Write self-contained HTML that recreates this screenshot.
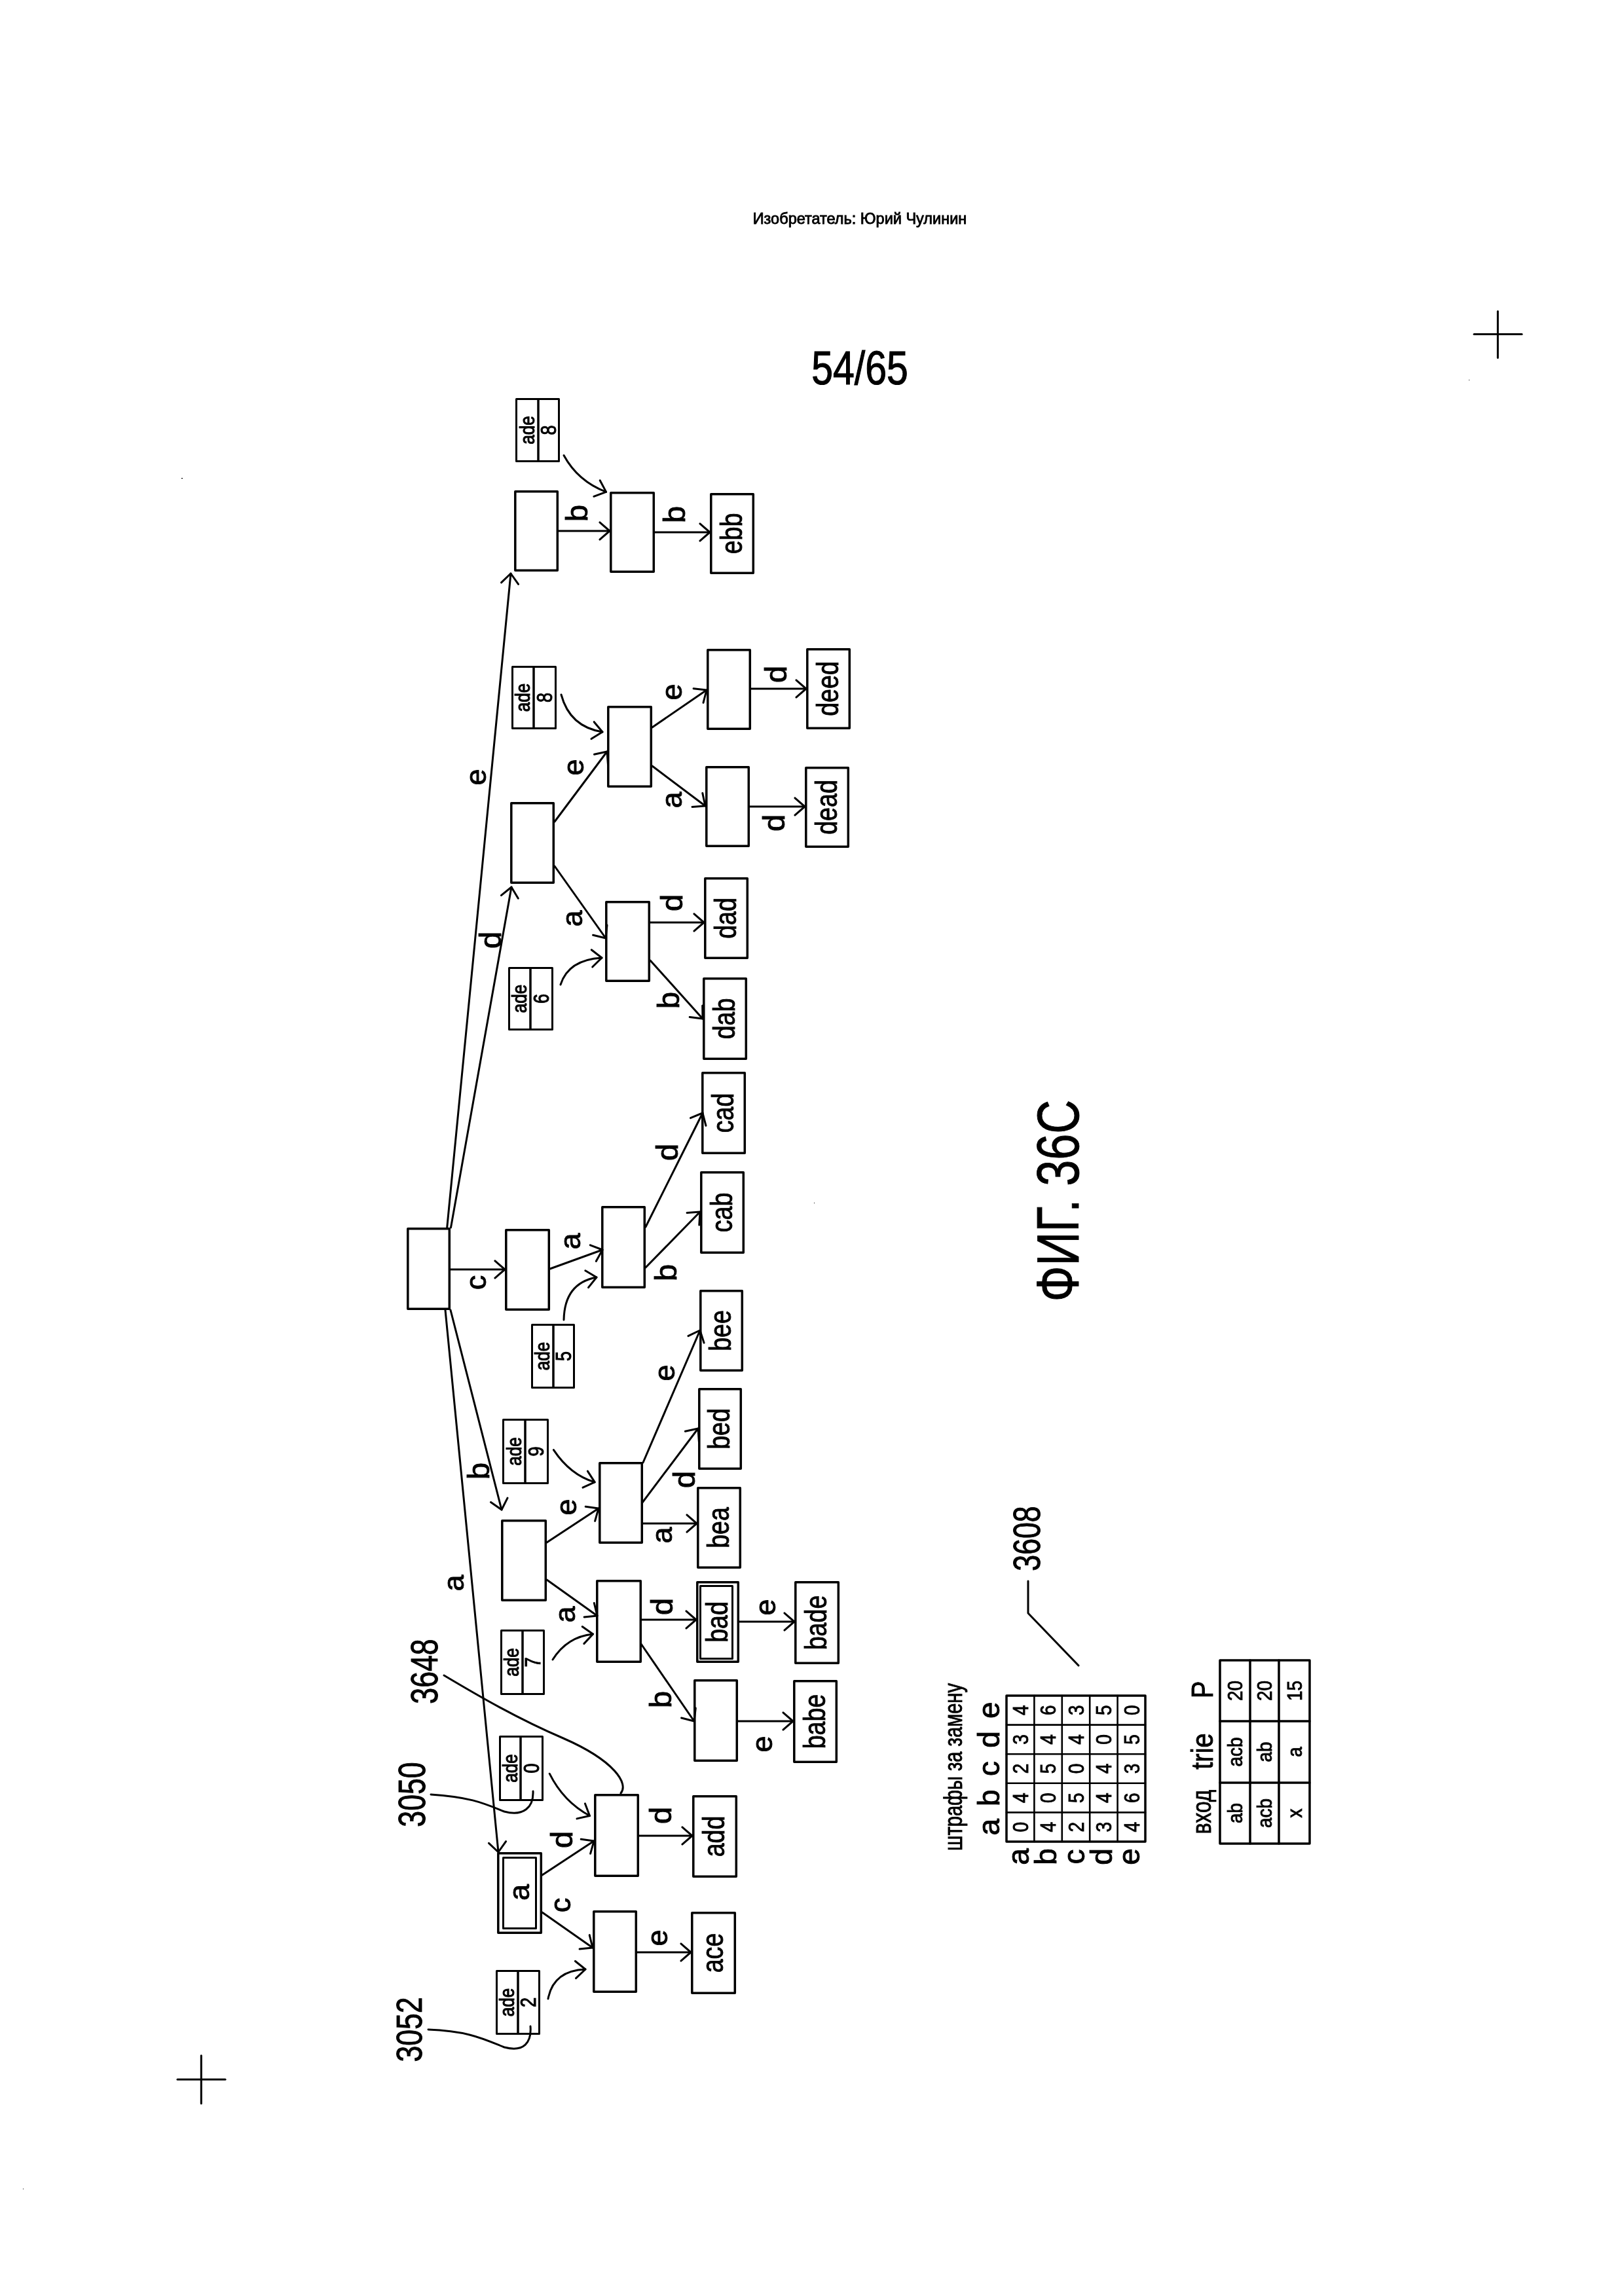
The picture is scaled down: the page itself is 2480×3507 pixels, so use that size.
<!DOCTYPE html>
<html><head><meta charset="utf-8"><style>
html,body{margin:0;padding:0;background:#fff;}
svg{display:block;filter:grayscale(1);}
.s{fill:none;stroke:#000;stroke-linecap:round;stroke-linejoin:round;}
text{font-family:"Liberation Sans",sans-serif;fill:#000;}
</style></head><body>
<svg width="2480" height="3507" viewBox="0 0 2480 3507">
<rect width="2480" height="3507" fill="#fff"/>
<rect x="788.5" y="609.5" width="65.0" height="95.0" class="s" stroke-width="3"/>
<line x1="822" y1="609.5" x2="822" y2="704.5" stroke="#000" stroke-width="3.5"/>
<text transform="translate(815.9,657.0) rotate(-90) scale(0.84,1)" font-size="31" text-anchor="middle" stroke="#000" stroke-width="1.1">ade</text>
<text transform="translate(848.5,657.0) rotate(-90) scale(0.82,1)" font-size="33" text-anchor="middle" stroke="#000" stroke-width="1.1">8</text>
<rect x="786.8" y="750.8" width="64.5" height="120.5" class="s" stroke-width="3.5"/>
<rect x="932.8" y="752.8" width="65.5" height="120.5" class="s" stroke-width="3.5"/>
<rect x="1085.8" y="754.8" width="64.5" height="120.5" class="s" stroke-width="3.5"/>
<text transform="translate(1132.8,815.0) rotate(-90) scale(0.8,1)" font-size="47" text-anchor="middle" stroke="#000" stroke-width="0.9">ebb</text>
<line x1="853" y1="811" x2="931" y2="811" class="s" stroke-width="3.0"/>
<polyline points="915.9,797.9 931,811 915.9,824.1" class="s" stroke-width="3.0"/>
<text transform="translate(897.3,784.0) rotate(-90) scale(1.0,1)" font-size="47" text-anchor="middle" stroke="#000" stroke-width="0.9">b</text>
<line x1="1000" y1="813" x2="1084" y2="813" class="s" stroke-width="3.0"/>
<polyline points="1068.9,799.9 1084,813 1068.9,826.1" class="s" stroke-width="3.0"/>
<text transform="translate(1046.3,786.0) rotate(-90) scale(1.0,1)" font-size="47" text-anchor="middle" stroke="#000" stroke-width="0.9">b</text>
<path d="M861,695.5 Q882.5,735 925.6,751.4" class="s" stroke-width="3.0"/>
<polyline points="916.2,733.8 925.6,751.4 906.8,758.3" class="s" stroke-width="3.0"/>
<rect x="782.5" y="1018.5" width="66.0" height="94.0" class="s" stroke-width="3"/>
<line x1="815" y1="1018.5" x2="815" y2="1112.5" stroke="#000" stroke-width="3.5"/>
<text transform="translate(809.4,1065.5) rotate(-90) scale(0.84,1)" font-size="31" text-anchor="middle" stroke="#000" stroke-width="1.1">ade</text>
<text transform="translate(842.5,1065.5) rotate(-90) scale(0.82,1)" font-size="33" text-anchor="middle" stroke="#000" stroke-width="1.1">8</text>
<rect x="780.8" y="1226.8" width="64.5" height="121.5" class="s" stroke-width="3.5"/>
<rect x="928.8" y="1079.8" width="65.5" height="121.5" class="s" stroke-width="3.5"/>
<rect x="1080.8" y="992.8" width="64.5" height="120.5" class="s" stroke-width="3.5"/>
<rect x="1232.8" y="991.8" width="64.5" height="120.5" class="s" stroke-width="3.5"/>
<text transform="translate(1279.8,1052.0) rotate(-90) scale(0.8,1)" font-size="47" text-anchor="middle" stroke="#000" stroke-width="0.9">deed</text>
<rect x="1078.8" y="1171.8" width="64.5" height="120.5" class="s" stroke-width="3.5"/>
<rect x="1230.8" y="1172.8" width="64.5" height="120.5" class="s" stroke-width="3.5"/>
<text transform="translate(1277.8,1233.0) rotate(-90) scale(0.8,1)" font-size="47" text-anchor="middle" stroke="#000" stroke-width="0.9">dead</text>
<rect x="925.8" y="1377.8" width="65.5" height="120.5" class="s" stroke-width="3.5"/>
<rect x="1076.8" y="1341.8" width="64.5" height="121.5" class="s" stroke-width="3.5"/>
<text transform="translate(1123.8,1402.5) rotate(-90) scale(0.8,1)" font-size="47" text-anchor="middle" stroke="#000" stroke-width="0.9">dad</text>
<rect x="1074.8" y="1494.8" width="64.5" height="122.5" class="s" stroke-width="3.5"/>
<text transform="translate(1121.8,1556.0) rotate(-90) scale(0.8,1)" font-size="47" text-anchor="middle" stroke="#000" stroke-width="0.9">dab</text>
<rect x="777.5" y="1478.5" width="66.0" height="94.0" class="s" stroke-width="3"/>
<line x1="810" y1="1478.5" x2="810" y2="1572.5" stroke="#000" stroke-width="3.5"/>
<text transform="translate(804.4,1525.5) rotate(-90) scale(0.84,1)" font-size="31" text-anchor="middle" stroke="#000" stroke-width="1.1">ade</text>
<text transform="translate(837.5,1525.5) rotate(-90) scale(0.82,1)" font-size="33" text-anchor="middle" stroke="#000" stroke-width="1.1">6</text>
<line x1="847" y1="1255" x2="927" y2="1148" class="s" stroke-width="3.0"/>
<polyline points="907.5,1152.2 927,1148 928.5,1167.9" class="s" stroke-width="3.0"/>
<text transform="translate(891.3,1172.0) rotate(-90) scale(1.0,1)" font-size="45" text-anchor="middle" stroke="#000" stroke-width="0.9">e</text>
<line x1="847" y1="1323" x2="925" y2="1433" class="s" stroke-width="3.0"/>
<polyline points="927.0,1413.1 925,1433 905.6,1428.3" class="s" stroke-width="3.0"/>
<text transform="translate(889.3,1403.0) rotate(-90) scale(1.0,1)" font-size="45" text-anchor="middle" stroke="#000" stroke-width="0.9">a</text>
<line x1="996" y1="1111" x2="1079" y2="1054" class="s" stroke-width="3.0"/>
<polyline points="1059.1,1051.7 1079,1054 1074.0,1073.4" class="s" stroke-width="3.0"/>
<text transform="translate(1041.3,1057.0) rotate(-90) scale(1.0,1)" font-size="45" text-anchor="middle" stroke="#000" stroke-width="0.9">e</text>
<line x1="996" y1="1170" x2="1077" y2="1231" class="s" stroke-width="3.0"/>
<polyline points="1072.8,1211.4 1077,1231 1057.0,1232.4" class="s" stroke-width="3.0"/>
<text transform="translate(1041.3,1222.0) rotate(-90) scale(1.0,1)" font-size="45" text-anchor="middle" stroke="#000" stroke-width="0.9">a</text>
<line x1="1147" y1="1052" x2="1231" y2="1052" class="s" stroke-width="3.0"/>
<polyline points="1215.9,1038.9 1231,1052 1215.9,1065.1" class="s" stroke-width="3.0"/>
<text transform="translate(1201.3,1030.0) rotate(-90) scale(1.0,1)" font-size="47" text-anchor="middle" stroke="#000" stroke-width="0.9">d</text>
<line x1="1145" y1="1232" x2="1229" y2="1232" class="s" stroke-width="3.0"/>
<polyline points="1213.9,1218.9 1229,1232 1213.9,1245.1" class="s" stroke-width="3.0"/>
<text transform="translate(1198.3,1257.0) rotate(-90) scale(1.0,1)" font-size="47" text-anchor="middle" stroke="#000" stroke-width="0.9">d</text>
<line x1="993" y1="1409" x2="1075" y2="1409" class="s" stroke-width="3.0"/>
<polyline points="1059.9,1395.9 1075,1409 1059.9,1422.1" class="s" stroke-width="3.0"/>
<text transform="translate(1042.3,1379.0) rotate(-90) scale(1.0,1)" font-size="47" text-anchor="middle" stroke="#000" stroke-width="0.9">d</text>
<line x1="993" y1="1467" x2="1073" y2="1556" class="s" stroke-width="3.0"/>
<polyline points="1072.7,1536.0 1073,1556 1053.2,1553.5" class="s" stroke-width="3.0"/>
<text transform="translate(1037.3,1528.0) rotate(-90) scale(1.0,1)" font-size="47" text-anchor="middle" stroke="#000" stroke-width="0.9">b</text>
<path d="M857,1061 Q870,1110 920,1118" class="s" stroke-width="3.0"/>
<polyline points="907.2,1102.7 920,1118 903.0,1128.6" class="s" stroke-width="3.0"/>
<path d="M856,1504 Q868,1466 919,1463" class="s" stroke-width="3.0"/>
<polyline points="903.2,1450.8 919,1463 904.7,1477.0" class="s" stroke-width="3.0"/>
<rect x="622.8" y="1876.8" width="63.5" height="122.5" class="s" stroke-width="3.5"/>
<rect x="772.8" y="1878.8" width="65.5" height="121.5" class="s" stroke-width="3.5"/>
<rect x="919.8" y="1843.8" width="64.5" height="122.5" class="s" stroke-width="3.5"/>
<rect x="1070.8" y="1790.8" width="64.5" height="122.5" class="s" stroke-width="3.5"/>
<text transform="translate(1117.8,1852.0) rotate(-90) scale(0.8,1)" font-size="47" text-anchor="middle" stroke="#000" stroke-width="0.9">cab</text>
<rect x="1072.8" y="1638.8" width="64.5" height="122.5" class="s" stroke-width="3.5"/>
<text transform="translate(1119.8,1700.0) rotate(-90) scale(0.8,1)" font-size="47" text-anchor="middle" stroke="#000" stroke-width="0.9">cad</text>
<rect x="812.5" y="2023.5" width="64.0" height="96.0" class="s" stroke-width="3"/>
<line x1="845" y1="2023.5" x2="845" y2="2119.5" stroke="#000" stroke-width="3.5"/>
<text transform="translate(839.4,2071.5) rotate(-90) scale(0.84,1)" font-size="31" text-anchor="middle" stroke="#000" stroke-width="1.1">ade</text>
<text transform="translate(871.5,2071.5) rotate(-90) scale(0.82,1)" font-size="33" text-anchor="middle" stroke="#000" stroke-width="1.1">5</text>
<line x1="688" y1="1939" x2="771" y2="1939" class="s" stroke-width="3.0"/>
<polyline points="755.9,1925.9 771,1939 755.9,1952.1" class="s" stroke-width="3.0"/>
<text transform="translate(742.3,1959.0) rotate(-90) scale(1.0,1)" font-size="45" text-anchor="middle" stroke="#000" stroke-width="0.9">c</text>
<line x1="840" y1="1938" x2="920" y2="1909" class="s" stroke-width="3.0"/>
<polyline points="901.3,1901.8 920,1909 910.3,1926.5" class="s" stroke-width="3.0"/>
<text transform="translate(886.3,1896.0) rotate(-90) scale(1.0,1)" font-size="45" text-anchor="middle" stroke="#000" stroke-width="0.9">a</text>
<line x1="986" y1="1874" x2="1073" y2="1700" class="s" stroke-width="3.0"/>
<polyline points="1054.5,1707.6 1073,1700 1078.0,1719.4" class="s" stroke-width="3.0"/>
<text transform="translate(1035.3,1760.0) rotate(-90) scale(1.0,1)" font-size="47" text-anchor="middle" stroke="#000" stroke-width="0.9">d</text>
<line x1="986" y1="1936" x2="1069" y2="1851" class="s" stroke-width="3.0"/>
<polyline points="1049.1,1852.6 1069,1851 1067.8,1871.0" class="s" stroke-width="3.0"/>
<text transform="translate(1033.3,1944.0) rotate(-90) scale(1.0,1)" font-size="47" text-anchor="middle" stroke="#000" stroke-width="0.9">b</text>
<path d="M861,2016 Q862,1960 911,1951" class="s" stroke-width="3.0"/>
<polyline points="893.8,1940.8 911,1951 898.5,1966.6" class="s" stroke-width="3.0"/>
<line x1="682.7" y1="1875" x2="780" y2="876" class="s" stroke-width="3.0"/>
<polyline points="765.5,889.8 780,876 791.6,892.3" class="s" stroke-width="3.0"/>
<text transform="translate(742.3,1187.0) rotate(-90) scale(1.0,1)" font-size="45" text-anchor="middle" stroke="#000" stroke-width="0.9">e</text>
<line x1="688.5" y1="1875" x2="781" y2="1355" class="s" stroke-width="3.0"/>
<polyline points="765.4,1367.6 781,1355 791.3,1372.2" class="s" stroke-width="3.0"/>
<text transform="translate(765.3,1436.0) rotate(-90) scale(1.0,1)" font-size="47" text-anchor="middle" stroke="#000" stroke-width="0.9">d</text>
<rect x="768.5" y="2168.5" width="68.0" height="97.0" class="s" stroke-width="3"/>
<line x1="802" y1="2168.5" x2="802" y2="2265.5" stroke="#000" stroke-width="3.5"/>
<text transform="translate(795.9,2217.0) rotate(-90) scale(0.84,1)" font-size="31" text-anchor="middle" stroke="#000" stroke-width="1.1">ade</text>
<text transform="translate(830.0,2217.0) rotate(-90) scale(0.82,1)" font-size="33" text-anchor="middle" stroke="#000" stroke-width="1.1">9</text>
<rect x="766.8" y="2322.8" width="66.5" height="121.5" class="s" stroke-width="3.5"/>
<rect x="915.8" y="2234.8" width="64.5" height="121.5" class="s" stroke-width="3.5"/>
<rect x="1069.8" y="1971.8" width="63.5" height="121.5" class="s" stroke-width="3.5"/>
<text transform="translate(1116.3,2032.5) rotate(-90) scale(0.8,1)" font-size="47" text-anchor="middle" stroke="#000" stroke-width="0.9">bee</text>
<rect x="1067.8" y="2121.8" width="63.5" height="121.5" class="s" stroke-width="3.5"/>
<text transform="translate(1114.3,2182.5) rotate(-90) scale(0.8,1)" font-size="47" text-anchor="middle" stroke="#000" stroke-width="0.9">bed</text>
<rect x="1065.8" y="2272.8" width="64.5" height="121.5" class="s" stroke-width="3.5"/>
<text transform="translate(1112.8,2333.5) rotate(-90) scale(0.8,1)" font-size="47" text-anchor="middle" stroke="#000" stroke-width="0.9">bea</text>
<rect x="911.8" y="2414.8" width="66.5" height="123.5" class="s" stroke-width="3.5"/>
<rect x="1064.8" y="2416.8" width="62.5" height="121.5" class="s" stroke-width="3.5"/>
<rect x="1069.5" y="2422.5" width="49.0" height="111.0" class="s" stroke-width="3"/>
<text transform="translate(1110.8,2477.5) rotate(-90) scale(0.8,1)" font-size="47" text-anchor="middle" stroke="#000" stroke-width="0.9">bad</text>
<rect x="1214.8" y="2416.8" width="65.5" height="123.5" class="s" stroke-width="3.5"/>
<text transform="translate(1262.3,2478.5) rotate(-90) scale(0.8,1)" font-size="47" text-anchor="middle" stroke="#000" stroke-width="0.9">bade</text>
<rect x="1060.8" y="2566.8" width="64.5" height="122.5" class="s" stroke-width="3.5"/>
<rect x="1212.8" y="2567.8" width="64.5" height="123.5" class="s" stroke-width="3.5"/>
<text transform="translate(1259.8,2629.5) rotate(-90) scale(0.8,1)" font-size="47" text-anchor="middle" stroke="#000" stroke-width="0.9">babe</text>
<rect x="765.5" y="2490.5" width="65.0" height="97.0" class="s" stroke-width="3"/>
<line x1="798" y1="2490.5" x2="798" y2="2587.5" stroke="#000" stroke-width="3.5"/>
<text transform="translate(792.4,2539.0) rotate(-90) scale(0.84,1)" font-size="31" text-anchor="middle" stroke="#000" stroke-width="1.1">ade</text>
<text transform="translate(825.0,2539.0) rotate(-90) scale(0.82,1)" font-size="33" text-anchor="middle" stroke="#000" stroke-width="1.1">7</text>
<line x1="688" y1="2001" x2="766" y2="2306" class="s" stroke-width="3.0"/>
<polyline points="775.0,2288.1 766,2306 749.5,2294.6" class="s" stroke-width="3.0"/>
<text transform="translate(747.3,2247.0) rotate(-90) scale(1.0,1)" font-size="47" text-anchor="middle" stroke="#000" stroke-width="0.9">b</text>
<line x1="835" y1="2356" x2="914" y2="2304" class="s" stroke-width="3.0"/>
<polyline points="894.2,2301.3 914,2304 908.6,2323.3" class="s" stroke-width="3.0"/>
<text transform="translate(880.3,2302.0) rotate(-90) scale(1.0,1)" font-size="45" text-anchor="middle" stroke="#000" stroke-width="0.9">e</text>
<line x1="835" y1="2413" x2="912" y2="2468" class="s" stroke-width="3.0"/>
<polyline points="907.3,2448.5 912,2468 892.1,2469.9" class="s" stroke-width="3.0"/>
<text transform="translate(878.3,2466.0) rotate(-90) scale(1.0,1)" font-size="45" text-anchor="middle" stroke="#000" stroke-width="0.9">a</text>
<line x1="982" y1="2234" x2="1069" y2="2032" class="s" stroke-width="3.0"/>
<polyline points="1051.0,2040.7 1069,2032 1075.1,2051.1" class="s" stroke-width="3.0"/>
<text transform="translate(1030.3,2097.0) rotate(-90) scale(1.0,1)" font-size="45" text-anchor="middle" stroke="#000" stroke-width="0.9">e</text>
<line x1="981" y1="2295" x2="1066" y2="2182" class="s" stroke-width="3.0"/>
<polyline points="1046.4,2186.2 1066,2182 1067.4,2202.0" class="s" stroke-width="3.0"/>
<text transform="translate(1061.3,2260.0) rotate(-90) scale(1.0,1)" font-size="47" text-anchor="middle" stroke="#000" stroke-width="0.9">d</text>
<line x1="982" y1="2327" x2="1064" y2="2327" class="s" stroke-width="3.0"/>
<polyline points="1048.9,2313.9 1064,2327 1048.9,2340.1" class="s" stroke-width="3.0"/>
<text transform="translate(1026.3,2345.0) rotate(-90) scale(1.0,1)" font-size="45" text-anchor="middle" stroke="#000" stroke-width="0.9">a</text>
<line x1="980" y1="2474" x2="1063" y2="2474" class="s" stroke-width="3.0"/>
<polyline points="1047.9,2460.9 1063,2474 1047.9,2487.1" class="s" stroke-width="3.0"/>
<text transform="translate(1027.3,2454.0) rotate(-90) scale(1.0,1)" font-size="47" text-anchor="middle" stroke="#000" stroke-width="0.9">d</text>
<line x1="1129" y1="2477" x2="1213" y2="2477" class="s" stroke-width="3.0"/>
<polyline points="1197.9,2463.9 1213,2477 1197.9,2490.1" class="s" stroke-width="3.0"/>
<text transform="translate(1184.3,2455.0) rotate(-90) scale(1.0,1)" font-size="45" text-anchor="middle" stroke="#000" stroke-width="0.9">e</text>
<line x1="979" y1="2511" x2="1060" y2="2629" class="s" stroke-width="3.0"/>
<polyline points="1062.3,2609.1 1060,2629 1040.6,2624.0" class="s" stroke-width="3.0"/>
<text transform="translate(1025.3,2596.0) rotate(-90) scale(1.0,1)" font-size="47" text-anchor="middle" stroke="#000" stroke-width="0.9">b</text>
<line x1="1127" y1="2629" x2="1211" y2="2629" class="s" stroke-width="3.0"/>
<polyline points="1195.9,2615.9 1211,2629 1195.9,2642.1" class="s" stroke-width="3.0"/>
<text transform="translate(1179.3,2664.0) rotate(-90) scale(1.0,1)" font-size="45" text-anchor="middle" stroke="#000" stroke-width="0.9">e</text>
<path d="M845.4,2214.6 Q871,2253 908.2,2263.9" class="s" stroke-width="3.0"/>
<polyline points="897.4,2247.1 908.2,2263.9 890.0,2272.2" class="s" stroke-width="3.0"/>
<path d="M844,2535 Q866,2500 905.5,2496" class="s" stroke-width="3.0"/>
<polyline points="889.2,2484.5 905.5,2496 891.8,2510.6" class="s" stroke-width="3.0"/>
<rect x="763.5" y="2652.5" width="65.0" height="97.0" class="s" stroke-width="3"/>
<line x1="795" y1="2652.5" x2="795" y2="2749.5" stroke="#000" stroke-width="3.5"/>
<text transform="translate(789.9,2701.0) rotate(-90) scale(0.84,1)" font-size="31" text-anchor="middle" stroke="#000" stroke-width="1.1">ade</text>
<text transform="translate(822.5,2701.0) rotate(-90) scale(0.82,1)" font-size="33" text-anchor="middle" stroke="#000" stroke-width="1.1">0</text>
<rect x="760.8" y="2830.8" width="65.5" height="121.5" class="s" stroke-width="3.5"/>
<rect x="768.5" y="2837.5" width="50.0" height="108.0" class="s" stroke-width="3"/>
<text transform="translate(808.3,2890.5) rotate(-90) scale(1.0,1)" font-size="45" text-anchor="middle" stroke="#000" stroke-width="0.9">a</text>
<rect x="908.8" y="2741.8" width="65.5" height="123.5" class="s" stroke-width="3.5"/>
<rect x="1058.8" y="2743.8" width="65.5" height="122.5" class="s" stroke-width="3.5"/>
<text transform="translate(1106.3,2805.0) rotate(-90) scale(0.8,1)" font-size="47" text-anchor="middle" stroke="#000" stroke-width="0.9">add</text>
<rect x="906.8" y="2919.8" width="64.5" height="122.5" class="s" stroke-width="3.5"/>
<rect x="1056.8" y="2921.8" width="65.5" height="122.5" class="s" stroke-width="3.5"/>
<text transform="translate(1104.3,2983.0) rotate(-90) scale(0.8,1)" font-size="47" text-anchor="middle" stroke="#000" stroke-width="0.9">ace</text>
<rect x="758.5" y="3010.5" width="65.0" height="96.0" class="s" stroke-width="3"/>
<line x1="791" y1="3010.5" x2="791" y2="3106.5" stroke="#000" stroke-width="3.5"/>
<text transform="translate(785.4,3058.5) rotate(-90) scale(0.84,1)" font-size="31" text-anchor="middle" stroke="#000" stroke-width="1.1">ade</text>
<text transform="translate(818.0,3058.5) rotate(-90) scale(0.82,1)" font-size="33" text-anchor="middle" stroke="#000" stroke-width="1.1">2</text>
<line x1="680" y1="2001" x2="761" y2="2829" class="s" stroke-width="3.0"/>
<polyline points="772.6,2812.7 761,2829 746.5,2815.3" class="s" stroke-width="3.0"/>
<text transform="translate(708.3,2418.0) rotate(-90) scale(1.0,1)" font-size="45" text-anchor="middle" stroke="#000" stroke-width="0.9">a</text>
<line x1="828" y1="2864" x2="907" y2="2812" class="s" stroke-width="3.0"/>
<polyline points="887.2,2809.3 907,2812 901.6,2831.3" class="s" stroke-width="3.0"/>
<text transform="translate(874.3,2810.0) rotate(-90) scale(1.0,1)" font-size="47" text-anchor="middle" stroke="#000" stroke-width="0.9">d</text>
<line x1="828" y1="2921" x2="905" y2="2975" class="s" stroke-width="3.0"/>
<polyline points="900.2,2955.6 905,2975 885.1,2977.1" class="s" stroke-width="3.0"/>
<text transform="translate(871.3,2910.0) rotate(-90) scale(1.0,1)" font-size="45" text-anchor="middle" stroke="#000" stroke-width="0.9">c</text>
<line x1="976" y1="2804" x2="1057" y2="2804" class="s" stroke-width="3.0"/>
<polyline points="1041.9,2790.9 1057,2804 1041.9,2817.1" class="s" stroke-width="3.0"/>
<text transform="translate(1025.3,2773.0) rotate(-90) scale(1.0,1)" font-size="47" text-anchor="middle" stroke="#000" stroke-width="0.9">d</text>
<line x1="973" y1="2982" x2="1055" y2="2982" class="s" stroke-width="3.0"/>
<polyline points="1039.9,2968.9 1055,2982 1039.9,2995.1" class="s" stroke-width="3.0"/>
<text transform="translate(1019.3,2960.0) rotate(-90) scale(1.0,1)" font-size="45" text-anchor="middle" stroke="#000" stroke-width="0.9">e</text>
<path d="M839.2,2709.2 Q860.6,2752.1 900.5,2773.5" class="s" stroke-width="3.0"/>
<polyline points="893.4,2754.8 900.5,2773.5 881.0,2777.9" class="s" stroke-width="3.0"/>
<path d="M837,3053 Q845,3010 894,3008" class="s" stroke-width="3.0"/>
<polyline points="878.4,2995.5 894,3008 879.5,3021.7" class="s" stroke-width="3.0"/>
<path d="M678,2559 C730,2590 790,2625 860,2655 C940,2690 960,2725 948,2739" class="s" stroke-width="3"/>
<path d="M658,2741 C720,2745 740,2755 770,2767 C800,2775 815,2760 814,2736" class="s" stroke-width="3"/>
<path d="M654,3100 C715,3102 740,3115 770,3127 C800,3135 812,3120 810,3095" class="s" stroke-width="3"/>
<text transform="translate(668.0,2553.0) rotate(-90) scale(0.77,1)" font-size="58" text-anchor="middle" stroke="#000" stroke-width="0.9">3648</text>
<text transform="translate(649.0,2741.0) rotate(-90) scale(0.77,1)" font-size="58" text-anchor="middle" stroke="#000" stroke-width="0.9">3050</text>
<text transform="translate(644.0,3100.0) rotate(-90) scale(0.81,1)" font-size="55" text-anchor="middle" stroke="#000" stroke-width="0.9">3052</text>
<text transform="translate(1588.0,2350.0) rotate(-90) scale(0.77,1)" font-size="58" text-anchor="middle" stroke="#000" stroke-width="0.9">3608</text>
<polyline points="1570,2415 1570,2464 1647,2544" class="s" stroke-width="3"/>
<rect x="1537" y="2590" width="212" height="223" class="s" stroke-width="3.5"/>
<line x1="1579.4" y1="2590" x2="1579.4" y2="2813" class="s" stroke-width="2.6"/>
<line x1="1537" y1="2634.6" x2="1749" y2="2634.6" class="s" stroke-width="2.6"/>
<line x1="1621.8" y1="2590" x2="1621.8" y2="2813" class="s" stroke-width="2.6"/>
<line x1="1537" y1="2679.2" x2="1749" y2="2679.2" class="s" stroke-width="2.6"/>
<line x1="1664.2" y1="2590" x2="1664.2" y2="2813" class="s" stroke-width="2.6"/>
<line x1="1537" y1="2723.8" x2="1749" y2="2723.8" class="s" stroke-width="2.6"/>
<line x1="1706.6" y1="2590" x2="1706.6" y2="2813" class="s" stroke-width="2.6"/>
<line x1="1537" y1="2768.4" x2="1749" y2="2768.4" class="s" stroke-width="2.6"/>
<text transform="translate(1569.9,2612.3) rotate(-90) scale(0.85,1)" font-size="33" text-anchor="middle" stroke="#000" stroke-width="0.9">4</text>
<text transform="translate(1569.9,2656.9) rotate(-90) scale(0.85,1)" font-size="33" text-anchor="middle" stroke="#000" stroke-width="0.9">3</text>
<text transform="translate(1569.9,2701.5) rotate(-90) scale(0.85,1)" font-size="33" text-anchor="middle" stroke="#000" stroke-width="0.9">2</text>
<text transform="translate(1569.9,2746.1) rotate(-90) scale(0.85,1)" font-size="33" text-anchor="middle" stroke="#000" stroke-width="0.9">4</text>
<text transform="translate(1569.9,2790.7) rotate(-90) scale(0.85,1)" font-size="33" text-anchor="middle" stroke="#000" stroke-width="0.9">0</text>
<text transform="translate(1612.3,2612.3) rotate(-90) scale(0.85,1)" font-size="33" text-anchor="middle" stroke="#000" stroke-width="0.9">6</text>
<text transform="translate(1612.3,2656.9) rotate(-90) scale(0.85,1)" font-size="33" text-anchor="middle" stroke="#000" stroke-width="0.9">4</text>
<text transform="translate(1612.3,2701.5) rotate(-90) scale(0.85,1)" font-size="33" text-anchor="middle" stroke="#000" stroke-width="0.9">5</text>
<text transform="translate(1612.3,2746.1) rotate(-90) scale(0.85,1)" font-size="33" text-anchor="middle" stroke="#000" stroke-width="0.9">0</text>
<text transform="translate(1612.3,2790.7) rotate(-90) scale(0.85,1)" font-size="33" text-anchor="middle" stroke="#000" stroke-width="0.9">4</text>
<text transform="translate(1654.7,2612.3) rotate(-90) scale(0.85,1)" font-size="33" text-anchor="middle" stroke="#000" stroke-width="0.9">3</text>
<text transform="translate(1654.7,2656.9) rotate(-90) scale(0.85,1)" font-size="33" text-anchor="middle" stroke="#000" stroke-width="0.9">4</text>
<text transform="translate(1654.7,2701.5) rotate(-90) scale(0.85,1)" font-size="33" text-anchor="middle" stroke="#000" stroke-width="0.9">0</text>
<text transform="translate(1654.7,2746.1) rotate(-90) scale(0.85,1)" font-size="33" text-anchor="middle" stroke="#000" stroke-width="0.9">5</text>
<text transform="translate(1654.7,2790.7) rotate(-90) scale(0.85,1)" font-size="33" text-anchor="middle" stroke="#000" stroke-width="0.9">2</text>
<text transform="translate(1697.1,2612.3) rotate(-90) scale(0.85,1)" font-size="33" text-anchor="middle" stroke="#000" stroke-width="0.9">5</text>
<text transform="translate(1697.1,2656.9) rotate(-90) scale(0.85,1)" font-size="33" text-anchor="middle" stroke="#000" stroke-width="0.9">0</text>
<text transform="translate(1697.1,2701.5) rotate(-90) scale(0.85,1)" font-size="33" text-anchor="middle" stroke="#000" stroke-width="0.9">4</text>
<text transform="translate(1697.1,2746.1) rotate(-90) scale(0.85,1)" font-size="33" text-anchor="middle" stroke="#000" stroke-width="0.9">4</text>
<text transform="translate(1697.1,2790.7) rotate(-90) scale(0.85,1)" font-size="33" text-anchor="middle" stroke="#000" stroke-width="0.9">3</text>
<text transform="translate(1739.5,2612.3) rotate(-90) scale(0.85,1)" font-size="33" text-anchor="middle" stroke="#000" stroke-width="0.9">0</text>
<text transform="translate(1739.5,2656.9) rotate(-90) scale(0.85,1)" font-size="33" text-anchor="middle" stroke="#000" stroke-width="0.9">5</text>
<text transform="translate(1739.5,2701.5) rotate(-90) scale(0.85,1)" font-size="33" text-anchor="middle" stroke="#000" stroke-width="0.9">3</text>
<text transform="translate(1739.5,2746.1) rotate(-90) scale(0.85,1)" font-size="33" text-anchor="middle" stroke="#000" stroke-width="0.9">6</text>
<text transform="translate(1739.5,2790.7) rotate(-90) scale(0.85,1)" font-size="33" text-anchor="middle" stroke="#000" stroke-width="0.9">4</text>
<text transform="translate(1526.0,2612.3) rotate(-90) scale(1.0,1)" font-size="46" text-anchor="middle" stroke="#000" stroke-width="0.9">e</text>
<text transform="translate(1526.0,2656.9) rotate(-90) scale(1.0,1)" font-size="46" text-anchor="middle" stroke="#000" stroke-width="0.9">d</text>
<text transform="translate(1526.0,2701.5) rotate(-90) scale(1.0,1)" font-size="46" text-anchor="middle" stroke="#000" stroke-width="0.9">c</text>
<text transform="translate(1526.0,2746.1) rotate(-90) scale(1.0,1)" font-size="46" text-anchor="middle" stroke="#000" stroke-width="0.9">b</text>
<text transform="translate(1526.0,2790.7) rotate(-90) scale(1.0,1)" font-size="46" text-anchor="middle" stroke="#000" stroke-width="0.9">a</text>
<text transform="translate(1570.7,2836.0) rotate(-90) scale(1.0,1)" font-size="46" text-anchor="middle" stroke="#000" stroke-width="0.9">a</text>
<text transform="translate(1613.1,2836.0) rotate(-90) scale(1.0,1)" font-size="46" text-anchor="middle" stroke="#000" stroke-width="0.9">b</text>
<text transform="translate(1655.5,2836.0) rotate(-90) scale(1.0,1)" font-size="46" text-anchor="middle" stroke="#000" stroke-width="0.9">c</text>
<text transform="translate(1697.9,2836.0) rotate(-90) scale(1.0,1)" font-size="46" text-anchor="middle" stroke="#000" stroke-width="0.9">d</text>
<text transform="translate(1740.3,2836.0) rotate(-90) scale(1.0,1)" font-size="46" text-anchor="middle" stroke="#000" stroke-width="0.9">e</text>
<text transform="translate(1469.0,2699.0) rotate(-90) scale(0.766,1)" font-size="38" text-anchor="middle" stroke="#000" stroke-width="0.9">штрафы за замену</text>
<rect x="1863" y="2536" width="137" height="280" class="s" stroke-width="3.5"/>
<line x1="1909" y1="2536" x2="1909" y2="2816" class="s" stroke-width="3.5"/>
<line x1="1953" y1="2536" x2="1953" y2="2816" class="s" stroke-width="3.5"/>
<line x1="1863" y1="2629" x2="2000" y2="2629" class="s" stroke-width="3.5"/>
<line x1="1863" y1="2723" x2="2000" y2="2723" class="s" stroke-width="3.5"/>
<text transform="translate(1897.0,2582.5) rotate(-90) scale(0.9,1)" font-size="31" text-anchor="middle" stroke="#000" stroke-width="0.9">20</text>
<text transform="translate(1897.0,2676.0) rotate(-90) scale(0.9,1)" font-size="31" text-anchor="middle" stroke="#000" stroke-width="0.9">acb</text>
<text transform="translate(1897.0,2769.5) rotate(-90) scale(0.9,1)" font-size="31" text-anchor="middle" stroke="#000" stroke-width="0.9">ab</text>
<text transform="translate(1942.0,2582.5) rotate(-90) scale(0.9,1)" font-size="31" text-anchor="middle" stroke="#000" stroke-width="0.9">20</text>
<text transform="translate(1942.0,2676.0) rotate(-90) scale(0.9,1)" font-size="31" text-anchor="middle" stroke="#000" stroke-width="0.9">ab</text>
<text transform="translate(1942.0,2769.5) rotate(-90) scale(0.9,1)" font-size="31" text-anchor="middle" stroke="#000" stroke-width="0.9">acb</text>
<text transform="translate(1987.5,2582.5) rotate(-90) scale(0.9,1)" font-size="31" text-anchor="middle" stroke="#000" stroke-width="0.9">15</text>
<text transform="translate(1987.5,2676.0) rotate(-90) scale(0.9,1)" font-size="31" text-anchor="middle" stroke="#000" stroke-width="0.9">a</text>
<text transform="translate(1987.5,2769.5) rotate(-90) scale(0.9,1)" font-size="31" text-anchor="middle" stroke="#000" stroke-width="0.9">x</text>
<text transform="translate(1852.0,2581.0) rotate(-90) scale(0.85,1)" font-size="47" text-anchor="middle" stroke="#000" stroke-width="0.9">P</text>
<text transform="translate(1852.0,2675.0) rotate(-90) scale(0.85,1)" font-size="47" text-anchor="middle" stroke="#000" stroke-width="0.9">trie</text>
<text transform="translate(1849.0,2767.5) rotate(-90) scale(0.78,1)" font-size="40.5" text-anchor="middle" stroke="#000" stroke-width="0.9">вход</text>
<text transform="translate(1647.0,1834.0) rotate(-90) scale(0.799,1)" font-size="90" text-anchor="middle" stroke="#000" stroke-width="0.9">ФИГ. 36C</text>
<text x="1313" y="587" font-size="72" text-anchor="middle" stroke="#000" stroke-width="1.2" transform="translate(1313,0) scale(0.82,1) translate(-1313,0)">54/65</text>
<text x="1313" y="342" font-size="23.5" text-anchor="middle" stroke="#000" stroke-width="0.9">Изобретатель: Юрий Чулинин</text>
<rect x="277" y="730" width="2" height="1.2" fill="#000"/><rect x="2243" y="580" width="1" height="1" fill="#000"/><rect x="1243" y="1837" width="1" height="1" fill="#000"/><rect x="35" y="3343" width="1" height="1" fill="#000"/>
<line x1="2251" y1="510.6" x2="2324" y2="510.6" class="s" stroke-width="3"/>
<line x1="2287.3" y1="475.5" x2="2287.3" y2="546.4" class="s" stroke-width="3"/>
<line x1="271" y1="3176.3" x2="344" y2="3176.3" class="s" stroke-width="3"/>
<line x1="307.3" y1="3139.7" x2="307.3" y2="3213" class="s" stroke-width="3"/>
</svg></body></html>
